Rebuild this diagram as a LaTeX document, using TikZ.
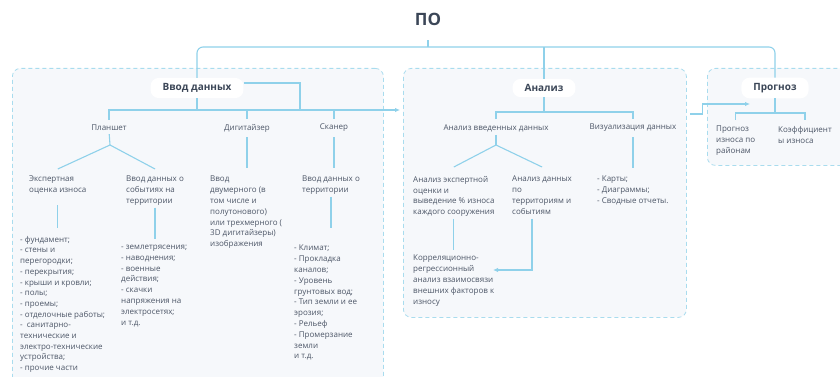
\documentclass[tikz,border=0pt]{standalone}
\usepackage{fontspec}
\setmainfont{Open Sans}
\usetikzlibrary{positioning,arrows.meta,calc}

\definecolor{linec}{HTML}{8FD1EA}
\definecolor{panelline}{HTML}{A9DCEE}
\definecolor{panelbg}{HTML}{F6F8FB}
\definecolor{txtc}{HTML}{4C5667}
\definecolor{headc}{HTML}{3B4657}

\begin{document}
\begin{tikzpicture}[
  x=1pt, y=-1pt,
  font=\fontsize{8}{10.8}\selectfont,
  link/.style={draw=linec, line width=1.1pt},
  arr/.style={-{Latex[length=5pt,width=4.5pt]}, draw=linec, line width=1.1pt},
  panel/.style={draw=panelline, dash pattern=on 4pt off 3pt, line width=0.8pt, rounded corners=8pt, fill=panelbg, anchor=north west},
  head/.style={fill=white, rounded corners=8pt, inner xsep=12pt, inner ysep=5.5pt, text=headc, font=\fontsize{10}{12}\selectfont\bfseries},
  sub/.style={inner sep=0pt, text=txtc},
  txt/.style={inner sep=0pt, text=txtc, align=left, anchor=north west}
]
\useasboundingbox (0,0) rectangle (840,377);
\clip (0,0) rectangle (840,377);

% ========== Root ==========
\node[font=\fontsize{17}{20}\selectfont\bfseries, text=headc, inner sep=0pt] (po) at (428,19) {ПО};

% ========== Panels ==========
\node[panel, minimum width=371pt, minimum height=345pt] (p1) at (12,68) {};
\node[panel, minimum width=283pt, minimum height=249pt] (p2) at (403,68) {};
\node[panel, minimum width=145pt, minimum height=97pt] (p3) at (707,68) {};

\node[head] (inp) at (197,88) {Ввод данных};
\node[head] (ana) at (544,88) {Анализ};
\node[head] (prog) at (775,88) {Прогноз};

% ========== LEFT: data input ==========
\node[sub] (plansh) at (109,128) {Планшет};
\node[sub] (digit) at (247,128) {Дигитайзер};
\node[sub] (scan) at (334,128) {Сканер};

\node[txt] (expert) at (29,176) {Экспертная\\оценка износа};
\node[txt] (events) at (126,176) {Ввод данных о\\событиях на\\территории};
\node[txt] (digtext) at (210,176) {Ввод\\двумерного (в\\том числе и\\полутонового)\\или трехмерного (\\3D дигитайзеры)\\изображения};
\node[txt] (scantext) at (302,176) {Ввод данных о\\территории};

\node[txt, font=\fontsize{8}{10.7}\selectfont] (list1) at (20,236)
{- фундамент;\\- стены и\\перегородки;\\- перекрытия;\\- крыши и кровли;\\- полы;\\- проемы;\\- отделочные работы;\\- \ санитарно-\\технические и\\электро-технические\\устройства;\\- прочие части};
\node[txt] (list2) at (121,245)
{- землетрясения;\\- наводнения;\\- военные\\действия;\\- скачки\\напряжения на\\электросетях;\\и т.д.};
\node[txt] (list3) at (294,245)
{- Климат;\\- Прокладка\\каналов;\\- Уровень\\грунтовых вод;\\- Тип земли и ее\\эрозия;\\- Рельеф\\- Промерзание\\земли\\и т.д.};

% ========== CENTER: analysis ==========
\node[sub] (anain) at (496,128) {Анализ введенных данных};
\node[sub] (vis) at (633,128) {Визуализация данных};

\node[txt] (expan) at (413,176) {Анализ экспертной\\оценки и\\выведение \% износа\\каждого сооружения};
\node[txt] (terran) at (512,176) {Анализ данных\\по\\территориям и\\событиям};
\node[txt] (corr) at (413,255) {Корреляционно-\\регрессионный\\анализ взаимосвязи\\внешних факторов к\\износу};
\node[txt] (vislist) at (597,176) {- Карты;\\- Диаграммы;\\- Сводные отчеты.};

% ========== RIGHT: forecast ==========
\node[txt] (progdist) at (716,126) {Прогноз\\износа по\\районам};
\node[txt] (coef) at (778,126) {Коэффициент\\ы износа};

% -----------------------------
% Connectors
% -----------------------------
\coordinate (busy) at (428,47);
\coordinate (subA) at (197,110);
\coordinate (subB) at (544,112);
\coordinate (subC) at (775,113);
\coordinate (plapex) at (110,145);
\coordinate (anapex) at (496,145);
\coordinate (turn1) at (300,110);
\coordinate (corrin) at (493,270);
\coordinate (progin) at (750,104);

% ===== Top bus =====
\draw[link, shorten <=15pt] (po.south) -- (busy);
\draw[link, rounded corners=6pt] (inp.north) |- (busy -| prog.north) -- (prog.north);
\draw[link] (ana.north) -- (ana.north |- busy);

% ===== Data input bus =====
\draw[link] (inp.south) -- (subA);
\draw[link, shorten <=5pt, shorten >=5pt] (plansh.north) |- (subA -| scan.north) -- (scan.north);
\draw[link, shorten >=5pt] (digit.north |- subA) -- (digit.north);
\draw[arr, shorten >=3pt] ([yshift=5pt]inp.east) -| (turn1) -- (p2.west |- turn1);

% ===== Tablet branch =====
\draw[link, shorten <=3pt] (plansh.south) -- (plapex);
\draw[link] ($(expert.north)+(0,-7)$) -- (plapex) -- ($(events.north)+(0,-7)$);
\draw[link, shorten <=11pt, shorten >=8pt] (expert.south) -- (expert.south |- list1.north);
\draw[link, shorten <=2pt, shorten >=6pt] (events.south) -- (events.south |- list2.north);

% ===== Digitizer and scanner =====
\draw[link, shorten <=5pt, shorten >=8pt] (digit.south) -- (digit.south |- digtext.north);
\draw[link, shorten <=5pt, shorten >=8pt] (scan.south) -- (scan.south |- scantext.north);
\draw[link, shorten <=2pt, shorten >=17pt] (scantext.south) -- (scantext.south |- list3.north);

% ===== Analysis =====
\draw[link] (ana.south) -- (subB);
\draw[link, shorten <=5pt, shorten >=5pt] (anain.north) |- (subB -| vis.north) -- (vis.north);
\draw[link, shorten <=3pt] (anain.south) -- (anapex);
\draw[link] ($(expan.north)+(0,-9)$) -- (anapex) -- ($(terran.north)+(0,-9)$);
\draw[link, shorten <=2pt, shorten >=5pt] (expan.south) -- (expan.south |- corr.north);
\draw[arr, shorten <=4pt] ([xshift=-10pt]terran.south) |- (corrin);
\draw[link, shorten <=5pt, shorten >=8pt] (vis.south) -- (vis.south |- vislist.north);

% ===== Analysis -> Forecast =====
\draw[arr, shorten <=3pt] (p2.east |- 0,114) -- ++(16,0) |- (progin);
\draw[link] (prog.south) -- (subC);
\draw[link, shorten <=6pt, shorten >=6pt] (progdist.north) |- (subC -| coef.north) -- (coef.north);

\end{tikzpicture}
\end{document}
